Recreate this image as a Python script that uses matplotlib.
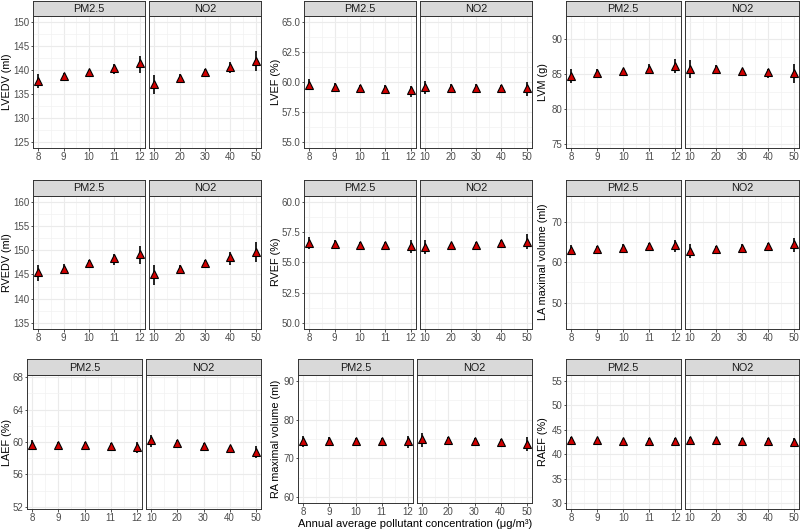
import numpy as np
import matplotlib.pyplot as plt
from matplotlib.ticker import MultipleLocator, FormatStrFormatter

plt.rcParams['font.family'] = ['Liberation Sans', 'DejaVu Sans']

pm25_conc = [8, 9, 10, 11, 12]
no2_conc = [10, 20, 30, 40, 50]
facets = ['PM2.5', 'NO2']

# estimate, lower, upper  (PM2.5 then NO2)
lvedv_pm25 = [137.7, 138.6, 139.5, 140.3, 141.3]
lvedv_pm25_lo = [136.1, 137.6, 138.6, 139.1, 139.3]
lvedv_pm25_hi = [139.1, 139.3, 140.0, 141.1, 142.8]
lvedv_no2 = [137.1, 138.3, 139.5, 140.6, 141.8]
lvedv_no2_lo = [135.0, 137.3, 138.9, 139.3, 139.7]
lvedv_no2_hi = [138.9, 139.2, 140.1, 141.7, 143.9]

lvef_pm25 = [59.75, 59.6, 59.5, 59.4, 59.3]
lvef_pm25_lo = [59.3, 59.35, 59.35, 59.1, 58.7]
lvef_pm25_hi = [60.2, 59.9, 59.7, 59.7, 59.65]
lvef_no2 = [59.55, 59.5, 59.5, 59.45, 59.45]
lvef_no2_lo = [59.0, 59.3, 59.3, 59.2, 58.85]
lvef_no2_hi = [60.1, 59.8, 59.8, 59.75, 60.0]

lvm_pm25 = [84.7, 85.2, 85.5, 85.8, 86.1]
lvm_pm25_lo = [83.7, 84.6, 85.1, 85.2, 85.1]
lvm_pm25_hi = [85.7, 85.7, 85.8, 86.4, 87.2]
lvm_no2 = [85.8, 85.7, 85.5, 85.3, 85.1]
lvm_no2_lo = [84.5, 85.0, 85.1, 84.5, 83.7]
lvm_no2_hi = [87.0, 86.3, 85.8, 85.8, 86.4]

rvedv_pm25 = [145.4, 146.2, 147.25, 148.3, 149.1]
rvedv_pm25_lo = [143.6, 145.3, 146.6, 147.0, 147.2]
rvedv_pm25_hi = [146.9, 147.2, 147.9, 149.1, 150.8]
rvedv_no2 = [145.0, 146.1, 147.25, 148.5, 149.6]
rvedv_no2_lo = [142.9, 145.1, 146.6, 147.0, 147.5]
rvedv_no2_hi = [146.9, 147.0, 147.9, 149.6, 151.7]

rvef_pm25 = [56.6, 56.5, 56.45, 56.4, 56.35]
rvef_pm25_lo = [56.1, 56.3, 56.3, 56.25, 55.8]
rvef_pm25_hi = [57.1, 56.8, 56.7, 56.7, 56.8]
rvef_no2 = [56.25, 56.4, 56.45, 56.55, 56.7]
rvef_no2_lo = [55.7, 56.2, 56.3, 56.3, 56.1]
rvef_no2_hi = [56.8, 56.6, 56.7, 56.8, 57.3]

lamax_pm25 = [62.95, 63.3, 63.6, 63.9, 64.3]
lamax_pm25_lo = [61.8, 62.5, 62.8, 63.0, 62.6]
lamax_pm25_hi = [64.3, 64.1, 64.4, 64.8, 65.5]
lamax_no2 = [62.8, 63.3, 63.6, 64.0, 64.4]
lamax_no2_lo = [61.1, 62.5, 62.8, 63.0, 62.6]
lamax_no2_hi = [64.4, 64.1, 64.4, 64.8, 66.1]

laef_pm25 = [59.65, 59.65, 59.6, 59.45, 59.4]
laef_pm25_lo = [59.05, 59.4, 59.3, 59.05, 58.7]
laef_pm25_hi = [60.2, 59.95, 59.95, 59.85, 59.95]
laef_no2 = [60.3, 59.85, 59.55, 59.2, 58.75]
laef_no2_lo = [59.4, 59.45, 59.15, 58.7, 58.0]
laef_no2_hi = [60.9, 60.25, 59.85, 59.5, 59.45]

ramax_pm25 = [74.6, 74.5, 74.5, 74.45, 74.45]
ramax_pm25_lo = [73.05, 73.6, 73.7, 73.5, 72.8]
ramax_pm25_hi = [75.8, 75.4, 75.2, 75.3, 75.8]
ramax_no2 = [74.9, 74.7, 74.45, 74.1, 73.75]
ramax_no2_lo = [73.05, 73.7, 73.6, 73.05, 72.0]
ramax_no2_hi = [76.6, 75.4, 75.2, 74.9, 75.6]

raef_pm25 = [42.85, 42.85, 42.8, 42.8, 42.7]
raef_pm25_lo = [42.0, 42.3, 42.3, 42.2, 41.8]
raef_pm25_hi = [43.5, 43.3, 43.2, 43.3, 43.4]
raef_no2 = [43.0, 42.85, 42.8, 42.7, 42.6]
raef_no2_lo = [42.0, 42.3, 42.2, 42.0, 41.5]
raef_no2_hi = [43.6, 43.4, 43.3, 43.3, 43.4]

outcomes = ['LVEDV (ml)', 'LVEF (%)', 'LVM (g)',
            'RVEDV (ml)', 'RVEF (%)', 'LA maximal volume (ml)',
            'LAEF (%)', 'RA maximal volume (ml)', 'RAEF (%)']

series = [
    (lvedv_pm25, lvedv_pm25_lo, lvedv_pm25_hi, lvedv_no2, lvedv_no2_lo, lvedv_no2_hi),
    (lvef_pm25, lvef_pm25_lo, lvef_pm25_hi, lvef_no2, lvef_no2_lo, lvef_no2_hi),
    (lvm_pm25, lvm_pm25_lo, lvm_pm25_hi, lvm_no2, lvm_no2_lo, lvm_no2_hi),
    (rvedv_pm25, rvedv_pm25_lo, rvedv_pm25_hi, rvedv_no2, rvedv_no2_lo, rvedv_no2_hi),
    (rvef_pm25, rvef_pm25_lo, rvef_pm25_hi, rvef_no2, rvef_no2_lo, rvef_no2_hi),
    (lamax_pm25, lamax_pm25_lo, lamax_pm25_hi, lamax_no2, lamax_no2_lo, lamax_no2_hi),
    (laef_pm25, laef_pm25_lo, laef_pm25_hi, laef_no2, laef_no2_lo, laef_no2_hi),
    (ramax_pm25, ramax_pm25_lo, ramax_pm25_hi, ramax_no2, ramax_no2_lo, ramax_no2_hi),
    (raef_pm25, raef_pm25_lo, raef_pm25_hi, raef_no2, raef_no2_lo, raef_no2_hi),
]

# y limits, major step, label format
ylims = [(123.75, 151.25), (54.5, 65.5), (74.4, 93.4),
         (133.75, 161.25), (49.5, 60.5), (43.5, 76.5),
         (51.75, 68.25), (58.5, 91.5), (28.75, 56.25)]
ysteps = [5, 2.5, 5, 5, 2.5, 10, 4, 10, 5]
yfmts = ['%d', '%.1f', '%d', '%d', '%.1f', '%d', '%d', '%d', '%d']

# layout in pixels: strip top, panel top, panel bottom per plot
W, H = 800, 531
row_y = [(0.5, 15.5, 148), (179.5, 195.5, 329), (358.5, 375, 509)]
col_x = [[33, 33, 27], [304, 304, 298], [566, 566, 566]]
col_right = [261, 532, 799]
label_x = [7, 276, 543]
GAP = 4

RED = '#D00000'
EDGE = '#333333'

fig = plt.figure(figsize=(W / 100, H / 100), dpi=100)


def fig_rect(x0, y0, x1, y1):
    return [x0 / W, 1 - y1 / H, (x1 - x0) / W, (y1 - y0) / H]


for k in range(9):
    r, c = divmod(k, 3)
    st, pt, pb = row_y[r]
    if k == 7:
        pb = 503  # bottom-middle plot carries the x-axis title
    left = col_x[c][r]
    right = col_right[c]
    pw = (right - left - GAP) / 2
    vals = series[k]
    for j in range(2):
        x0 = left + j * (pw + GAP)
        x1 = x0 + pw
        ax = fig.add_axes(fig_rect(x0, pt, x1, pb))
        sax = fig.add_axes(fig_rect(x0, st, x1, pt))
        sax.set_facecolor('#D9D9D9')
        sax.set_xticks([])
        sax.set_yticks([])
        for s in sax.spines.values():
            s.set_color(EDGE)
            s.set_linewidth(0.7)
        sax.text(0.5, 0.45, facets[j], ha='center', va='center',
                 fontsize=7.8, color='#1A1A1A', transform=sax.transAxes)

        x = pm25_conc if j == 0 else no2_conc
        est, lo, hi = vals[3 * j], vals[3 * j + 1], vals[3 * j + 2]
        ax.vlines(x, lo, hi, color='black', lw=1.2, zorder=3)
        ax.plot(x, est, '^', ms=5.8, mfc=RED, mec='black', mew=0.8,
                ls='none', zorder=4, clip_on=False)

        if j == 0:
            ax.set_xlim(7.8, 12.2)
            ax.xaxis.set_major_locator(MultipleLocator(1))
            ax.xaxis.set_minor_locator(MultipleLocator(0.5))
        else:
            ax.set_xlim(8, 52)
            ax.xaxis.set_major_locator(MultipleLocator(10))
            ax.xaxis.set_minor_locator(MultipleLocator(5))
        ax.set_ylim(*ylims[k])
        ax.yaxis.set_major_locator(MultipleLocator(ysteps[k]))
        ax.yaxis.set_minor_locator(MultipleLocator(ysteps[k] / 2))
        ax.yaxis.set_major_formatter(FormatStrFormatter(yfmts[k]))

        ax.grid(which='major', color='#EBEBEB', lw=0.8)
        ax.grid(which='minor', color='#F2F2F2', lw=0.5)
        ax.set_axisbelow(True)
        for s in ax.spines.values():
            s.set_color(EDGE)
            s.set_linewidth(0.7)
        ax.tick_params(which='major', length=1.8, width=0.6, color=EDGE,
                       labelsize=7, labelcolor='#4D4D4D', pad=1)
        ax.tick_params(which='minor', length=0)
        if j == 1:
            ax.tick_params(axis='y', which='both', left=False, labelleft=False)

    fig.text(label_x[c] / W, 1 - ((pt + pb) / 2) / H, outcomes[k],
             rotation=90, ha='center', va='center', fontsize=7.8, color='black')

    if k == 7:
        fig.text(((left + right) / 2) / W, 1 - 527 / H,
                 'Annual average pollutant concentration (\u03bcg/m\u00b3)',
                 ha='center', va='baseline', fontsize=8, color='black')

fig.savefig('out.png', dpi=100)
